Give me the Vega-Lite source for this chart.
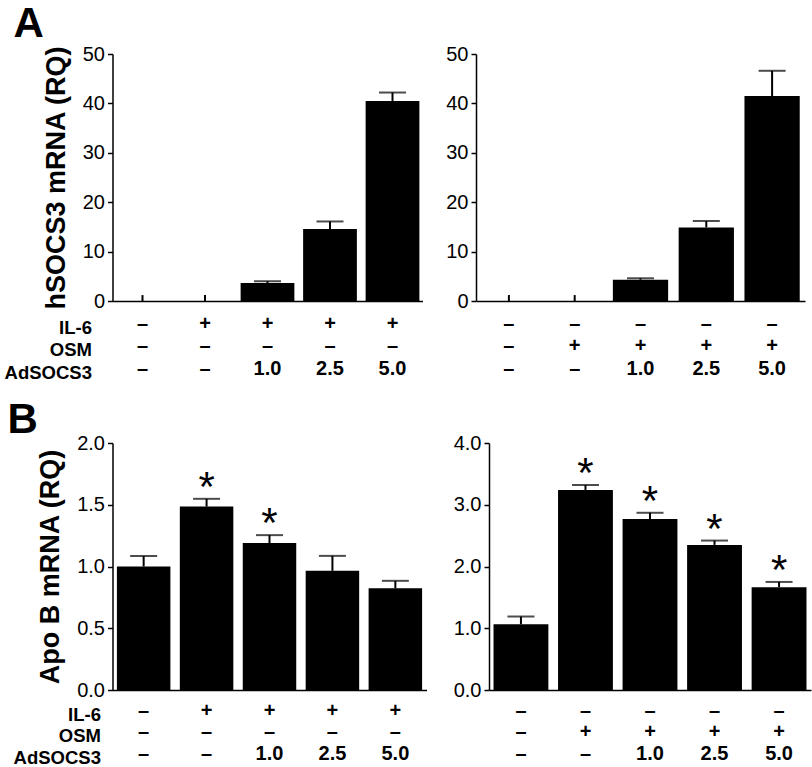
{
  "$schema": "https://vega.github.io/schema/vega-lite/v6.json",
  "background": "white",
  "padding": {"left": 3.5, "top": 3, "right": 0, "bottom": 0},
  "config": {
    "font": "Liberation Sans",
    "view": {"stroke": null},
    "axis": {"domainColor": "black", "domainWidth": 1.5, "tickColor": "black", "tickWidth": 1.5, "labelColor": "black", "titleColor": "black", "grid": false},
    "axisY": {"labelFontSize": 20, "labelPadding": 3, "tickSize": 5, "titleFontSize": 27, "titleFontWeight": "bold", "titlePadding": 12, "labelFontWeight": "normal"},
    "axisX": {"labelAngle": 0, "ticks": false, "labelFontSize": 20, "labelFontWeight": "bold", "labelLineHeight": 22.5, "labelPadding": 12, "labelExpr": "split(datum.label, '\\n')", "titleFontSize": 18.5, "titleFontWeight": "bold", "titleLineHeight": 22.5, "titleAlign": "right", "titleBaseline": "top", "titleAngle": 0}
  },
  "datasets": {
    "AL": [
      {"cond": "–\n–\n–", "value": 0, "hi": 1.2, "star": ""},
      {"cond": "+\n–\n–", "value": 0, "hi": 1.2, "star": ""},
      {"cond": "+\n–\n1.0", "value": 3.65, "hi": 4.0, "star": ""},
      {"cond": "+\n–\n2.5", "value": 14.6, "hi": 16.1, "star": ""},
      {"cond": "+\n–\n5.0", "value": 40.5, "hi": 42.2, "star": ""}
    ],
    "AR": [
      {"cond": "–\n–\n–", "value": 0, "hi": 1.2, "star": ""},
      {"cond": "–\n+\n–", "value": 0, "hi": 1.2, "star": ""},
      {"cond": "–\n+\n1.0", "value": 4.3, "hi": 4.6, "star": ""},
      {"cond": "–\n+\n2.5", "value": 14.9, "hi": 16.2, "star": ""},
      {"cond": "–\n+\n5.0", "value": 41.5, "hi": 46.6, "star": ""}
    ],
    "BL": [
      {"cond": "–\n–\n–", "value": 1.0, "hi": 1.085, "star": ""},
      {"cond": "+\n–\n–", "value": 1.485, "hi": 1.548, "star": "*"},
      {"cond": "+\n–\n1.0", "value": 1.19, "hi": 1.254, "star": "*"},
      {"cond": "+\n–\n2.5", "value": 0.965, "hi": 1.086, "star": ""},
      {"cond": "+\n–\n5.0", "value": 0.823, "hi": 0.884, "star": ""}
    ],
    "BR": [
      {"cond": "–\n–\n–", "value": 1.065, "hi": 1.19, "star": ""},
      {"cond": "–\n+\n–", "value": 3.24, "hi": 3.32, "star": "*"},
      {"cond": "–\n+\n1.0", "value": 2.77, "hi": 2.87, "star": "*"},
      {"cond": "–\n+\n2.5", "value": 2.35, "hi": 2.42, "star": "*"},
      {"cond": "–\n+\n5.0", "value": 1.665, "hi": 1.75, "star": "*"}
    ]
  },
  "columns": 1,
  "align": "none",
  "spacing": 17,
  "concat": [
    {
      "title": {"text": "A", "anchor": "start", "frame": "bounds", "fontSize": 42, "fontWeight": "bold", "dx": 9.5, "offset": -2, "color": "black"},
      "bounds": "flush",
      "spacing": 53.5,
      "hconcat": [
        {
          "width": 310, "height": 247,
          "data": {"name": "AL"},
          "encoding": {"x": {"field": "cond", "type": "nominal", "sort": null, "scale": {"paddingInner": 0.14, "paddingOuter": 0.05}, "axis": {"title": ["IL-6", "OSM", "AdSOCS3"], "titleX": -21, "titleY": 17}}},
          "layer": [
            {"mark": {"type": "bar", "color": "black"}, "encoding": {"y": {"field": "value", "type": "quantitative", "title": "hSOCS3 mRNA (RQ)", "scale": {"domain": [0, 50], "nice": false}, "axis": {"values": [0, 10, 20, 30, 40, 50]}}}},
            {"mark": {"type": "rule", "strokeWidth": 2, "color": "black"}, "encoding": {"y": {"field": "value", "type": "quantitative", "title": "hSOCS3 mRNA (RQ)"}, "y2": {"field": "hi"}}},
            {"transform": [{"filter": "datum.value > 0"}], "mark": {"type": "tick", "size": 27, "thickness": 2, "color": "black"}, "encoding": {"y": {"field": "hi", "type": "quantitative", "title": "hSOCS3 mRNA (RQ)"}}}
          ]
        },
        {
          "width": 329, "height": 247,
          "data": {"name": "AR"},
          "encoding": {"x": {"field": "cond", "type": "nominal", "sort": null, "scale": {"paddingInner": 0.16, "paddingOuter": 0.08}, "axis": {"title": null}}},
          "layer": [
            {"mark": {"type": "bar", "color": "black"}, "encoding": {"y": {"field": "value", "type": "quantitative", "title": null, "scale": {"domain": [0, 50], "nice": false}, "axis": {"values": [0, 10, 20, 30, 40, 50]}}}},
            {"mark": {"type": "rule", "strokeWidth": 2, "color": "black"}, "encoding": {"y": {"field": "value", "type": "quantitative", "title": null}, "y2": {"field": "hi"}}},
            {"transform": [{"filter": "datum.value > 0"}], "mark": {"type": "tick", "size": 27, "thickness": 2, "color": "black"}, "encoding": {"y": {"field": "hi", "type": "quantitative", "title": null}}}
          ]
        }
      ]
    },
    {
      "title": {"text": "B", "anchor": "start", "frame": "bounds", "fontSize": 42, "fontWeight": "bold", "dx": -5.5, "offset": -9, "color": "black"},
      "bounds": "flush",
      "spacing": 62.5,
      "hconcat": [
        {
          "width": 314, "height": 247,
          "data": {"name": "BL"},
          "encoding": {"x": {"field": "cond", "type": "nominal", "sort": null, "scale": {"paddingInner": 0.15, "paddingOuter": 0.07}, "axis": {"title": ["IL-6", "OSM", "AdSOCS3"], "titleX": -12, "titleY": 15, "labelPadding": 10, "labelLineHeight": 21.5, "titleLineHeight": 21.5}}},
          "layer": [
            {"mark": {"type": "bar", "color": "black"}, "encoding": {"y": {"field": "value", "type": "quantitative", "title": "Apo B mRNA (RQ)", "scale": {"domain": [0, 2], "nice": false}, "axis": {"values": [0, 0.5, 1, 1.5, 2], "format": ".1f"}}}},
            {"mark": {"type": "rule", "strokeWidth": 2, "color": "black"}, "encoding": {"y": {"field": "value", "type": "quantitative", "title": "Apo B mRNA (RQ)"}, "y2": {"field": "hi"}}},
            {"mark": {"type": "tick", "size": 27, "thickness": 2, "color": "black"}, "encoding": {"y": {"field": "hi", "type": "quantitative", "title": "Apo B mRNA (RQ)"}}},
            {"transform": [{"filter": "datum.star == '*'"}], "mark": {"type": "text", "fontSize": 42, "dy": 2, "baseline": "alphabetic", "color": "black"}, "encoding": {"y": {"field": "hi", "type": "quantitative", "title": "Apo B mRNA (RQ)"}, "text": {"field": "star"}}}
          ]
        },
        {
          "width": 322, "height": 247,
          "data": {"name": "BR"},
          "encoding": {"x": {"field": "cond", "type": "nominal", "sort": null, "scale": {"paddingInner": 0.15, "paddingOuter": 0.07}, "axis": {"title": null, "labelPadding": 10, "labelLineHeight": 21.5}}},
          "layer": [
            {"mark": {"type": "bar", "color": "black"}, "encoding": {"y": {"field": "value", "type": "quantitative", "title": null, "scale": {"domain": [0, 4], "nice": false}, "axis": {"values": [0, 1, 2, 3, 4], "format": ".1f"}}}},
            {"mark": {"type": "rule", "strokeWidth": 2, "color": "black"}, "encoding": {"y": {"field": "value", "type": "quantitative", "title": null}, "y2": {"field": "hi"}}},
            {"mark": {"type": "tick", "size": 27, "thickness": 2, "color": "black"}, "encoding": {"y": {"field": "hi", "type": "quantitative", "title": null}}},
            {"transform": [{"filter": "datum.star == '*'"}], "mark": {"type": "text", "fontSize": 42, "dy": 2, "baseline": "alphabetic", "color": "black"}, "encoding": {"y": {"field": "hi", "type": "quantitative", "title": null}, "text": {"field": "star"}}}
          ]
        }
      ]
    }
  ]
}
